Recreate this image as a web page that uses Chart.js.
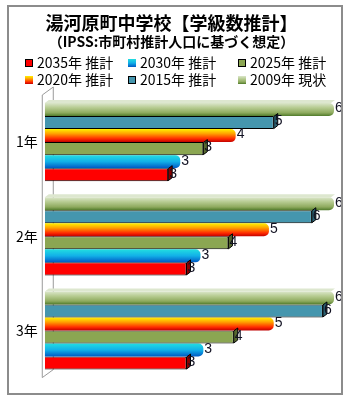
<!DOCTYPE html>
<html>
<head>
<meta charset="utf-8">
<script src="https://cdn.jsdelivr.net/npm/chart.js@4.4.0/dist/chart.umd.min.js"></script>
<style>
  body { margin: 0; background: #fff; }
  #frame { position: absolute; left: 7px; top: 5px; width: 332px; height: 386px; border: 2px solid #8c8c8c; }
  canvas { display: block; }
</style>
</head>
<body>
<div id="frame"><canvas id="chart" width="332" height="386"></canvas></div>
<script>
// data (bar lengths; labels show the rounded value)
const categories = ['1年', '2年', '3年'];
const seriesLabels = ['2009年 現状', '2015年 推計', '2020年 推計', '2025年 推計', '2030年 推計', '2035年 推計'];
const values2009 = [6, 6, 6];
const values2015 = [4.75, 5.54, 5.77];
const values2020 = [3.96, 4.65, 4.75];
const values2025 = [3.29, 3.81, 3.92];
const values2030 = [2.81, 3.23, 3.29];
const values2035 = [2.56, 2.94, 2.94];

const FONT = '"Noto Sans CJK JP", sans-serif';
const CAT_PCT = 0.83;

// styles, same order as the series
const greenStops = [[0, '#dbe6cb'], [0.35, '#b7cc92'], [0.75, '#8eaa5e'], [1, '#4f7a2a']];
const fireStops = [[0, '#fff200'], [0.35, '#ffa200'], [0.75, '#ff2a00'], [1, '#c00000']];
const iceStops = [[0, '#22dde0'], [0.5, '#12b0e8'], [1, '#0058c4']];
const solidColors = ['#a9c27c', '#4596ae', '#ff8a00', '#8ba652', '#14a8e4', '#ff0000'];
const sideColors = [null, '#2b5f6f', null, '#56682f', null, '#8a0000'];

Chart.defaults.font.family = FONT;

function gradientFill(stops, solid) {
    return function (ctx) {
        const chart = ctx.chart;
        const area = chart.chartArea;
        if (!area || ctx.dataIndex === undefined) return solid;
        const catSize = (area.bottom - area.top) / categories.length;
        const thick = catSize * CAT_PCT / seriesLabels.length;
        const top = chart.scales.y.getPixelForValue(ctx.dataIndex) - catSize * CAT_PCT / 2 + ctx.datasetIndex * thick;
        const g = chart.ctx.createLinearGradient(0, top, 0, top + thick);
        stops.forEach(s => g.addColorStop(s[0], s[1]));
        return g;
    };
}

function boxGradient(ctx, stops, y, h) {
    const g = ctx.createLinearGradient(0, y, 0, y + h);
    stops.forEach(s => g.addColorStop(s[0], s[1]));
    return g;
}

// 3D wall, bar end faces and value labels
const fakeDepth = {
    id: 'fakeDepth',
    beforeDatasetsDraw(chart) {
        const { ctx, chartArea: a } = chart;
        ctx.save();
        ctx.strokeStyle = '#9a9a9a';
        ctx.lineWidth = 1;
        ctx.beginPath();
        ctx.moveTo(a.left - 2.5, a.top);
        ctx.lineTo(a.left - 2.5, a.bottom);
        ctx.lineTo(a.left + 8.5, a.bottom - 8);
        ctx.lineTo(a.left + 8.5, a.top - 8);
        ctx.lineTo(a.left - 2.5, a.top);
        ctx.stroke();
        ctx.restore();
    },
    afterDatasetsDraw(chart) {
        const ctx = chart.ctx;
        ctx.save();
        chart.data.datasets.forEach((ds, i) => {
            chart.getDatasetMeta(i).data.forEach((bar, j) => {
                const top = bar.y - bar.height / 2;
                const bottom = bar.y + bar.height / 2;
                if (i === 0) {
                    ctx.fillStyle = '#dde7cf';
                    ctx.beginPath();
                    ctx.moveTo(bar.base, top);
                    ctx.lineTo(bar.base + 4, top - 3);
                    ctx.lineTo(bar.x + 1, top - 3);
                    ctx.lineTo(bar.x - 3, top);
                    ctx.closePath();
                    ctx.fill();
                }
                if (sideColors[i]) {
                    ctx.fillStyle = sideColors[i];
                    ctx.strokeStyle = '#000';
                    ctx.lineWidth = 1;
                    ctx.beginPath();
                    ctx.moveTo(bar.x, top + 0.5);
                    ctx.lineTo(bar.x + 4, top - 2.5);
                    ctx.lineTo(bar.x + 4, bottom - 3.5);
                    ctx.lineTo(bar.x, bottom - 0.5);
                    ctx.closePath();
                    ctx.fill();
                    ctx.stroke();
                }
                ctx.fillStyle = '#111122';
                ctx.font = '14px "Liberation Sans", sans-serif';
                ctx.textAlign = 'left';
                ctx.textBaseline = 'middle';
                ctx.fillText(String(Math.round(ds.data[j])), bar.x + 1, bar.y - 1);
            });
        });
        ctx.restore();
    }
};

// legend in a fixed 3 x 2 grid, 2035 first
const gridLegend = {
    id: 'gridLegend',
    afterDraw(chart) {
        const ctx = chart.ctx;
        const cols = [16, 119, 229];
        const rows = [56, 73];
        const stopsFor = [greenStops, null, fireStops, null, iceStops, null];
        ctx.save();
        ctx.font = '14px ' + FONT;
        ctx.textBaseline = 'middle';
        ctx.textAlign = 'left';
        for (let k = 0; k < seriesLabels.length; k++) {
            const i = seriesLabels.length - 1 - k;
            const x = cols[k % 3];
            const y = rows[Math.floor(k / 3)];
            ctx.fillStyle = stopsFor[i] ? boxGradient(ctx, stopsFor[i], y - 4, 8) : solidColors[i];
            ctx.fillRect(x, y - 4, 8, 8);
            if (sideColors[i]) {
                ctx.strokeStyle = '#000';
                ctx.lineWidth = 1;
                ctx.strokeRect(x + 0.5, y - 3.5, 7, 7);
            }
            ctx.fillStyle = '#000';
            ctx.fillText(seriesLabels[i], x + 12, y);
        }
        ctx.restore();
    }
};

function dataset(i, values, fill, flat) {
    return {
        label: seriesLabels[i],
        data: values,
        backgroundColor: fill,
        borderColor: '#000',
        borderWidth: flat ? 1 : 0,
        borderRadius: flat ? 0 : 5,
        barPercentage: 1,
        categoryPercentage: CAT_PCT,
    };
}

document.addEventListener('DOMContentLoaded', function () {
    const canvas = document.getElementById('chart').getContext('2d');
    new Chart(canvas, {
        type: 'bar',
        data: {
            labels: categories,
            datasets: [
                dataset(0, values2009, gradientFill(greenStops, solidColors[0]), false),
                dataset(1, values2015, solidColors[1], true),
                dataset(2, values2020, gradientFill(fireStops, solidColors[2]), false),
                dataset(3, values2025, solidColors[3], true),
                dataset(4, values2030, gradientFill(iceStops, solidColors[4]), false),
                dataset(5, values2035, solidColors[5], true),
            ],
        },
        options: {
            indexAxis: 'y',
            responsive: false,
            animation: false,
            layout: { padding: { left: 0, right: 7, top: 0, bottom: 10 } },
            plugins: {
                legend: { display: false },
                tooltip: { enabled: false },
                title: {
                    display: true,
                    text: '湯河原町中学校【学級数推計】',
                    color: '#000',
                    font: { size: 18, weight: 'bold' },
                    padding: { top: 5, bottom: 0 },
                },
                subtitle: {
                    display: true,
                    text: '（IPSS:市町村推計人口に基づく想定）',
                    color: '#000',
                    font: { size: 14, weight: 'bold' },
                    padding: { top: 0, bottom: 44.6 },
                },
            },
            scales: {
                x: { min: 0, max: 6, display: false },
                y: {
                    grid: { display: false, drawTicks: false },
                    border: { display: false },
                    ticks: { padding: 7, color: '#000', font: { size: 14 } },
                },
            },
        },
        plugins: [fakeDepth, gridLegend],
    });
});
</script>
</body>
</html>
